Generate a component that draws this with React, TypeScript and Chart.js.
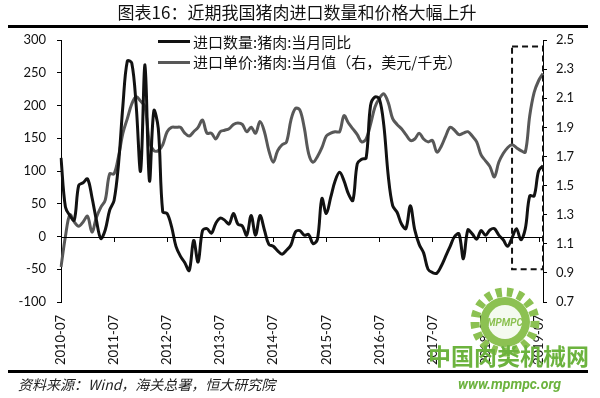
import React, { useEffect, useRef } from 'react';
import { Chart, registerables } from 'chart.js';
Chart.register(...registerables);

// 进口数量:猪肉:当月同比 (%), 2010-07 .. 2019-08
const quantityYoY: number[] = [
  120, 45, 32, 25, 78, 82, 88, 60, 25, -3, 10, 40,
  55, 110, 200, 268, 265, 200, 100, 262, 85, 192, 165, 38,
  35, 15, -15, -30, -40, -52, -6, -39, 9, 12, 5, 20,
  28, 25, 19, 35, 19, 16, 2, 32, 2, 32, 10, -12,
  -15, -22, -27, -21, -13, 7, 9, 2, 3, -11, -4, 58,
  35, 60, 85, 98, 85, 65, 55, 111, 118, 120, 200, 213,
  210, 170, 93, 47, 37, 19, 12, 47, 10, -12, -25, -50,
  -55, -56, -45, -30, -15, 0, 4, -34, 10, 4, -4, 9,
  2, 10, 12, 2, -5, -15, -2, 12, -5, 12, 62, 62,
  100, 108,
];

// 进口单价:猪肉:当月值 (美元/千克)
const unitPrice: number[] = [
  0.94, 1.15, 1.3, 1.25, 1.22, 1.25, 1.29, 1.18, 1.28, 1.35, 1.4, 1.58,
  1.58, 1.7, 1.86, 1.96, 2.06, 2.11, 2.08, 2.04, 1.8, 1.74, 1.74, 1.78,
  1.87, 1.9, 1.9, 1.9, 1.86, 1.84, 1.87, 1.9, 1.95, 1.86, 1.86, 1.82,
  1.87, 1.88, 1.89, 1.92, 1.93, 1.92, 1.87, 1.9, 1.86, 1.94, 1.87, 1.74,
  1.66, 1.74, 1.78, 1.8, 1.95, 2.03, 2.02, 1.9, 1.72, 1.66, 1.7, 1.76,
  1.84, 1.86, 1.87, 1.87, 1.98, 1.93, 1.89, 1.85, 1.8, 1.82, 1.92, 2.04,
  2.1, 2.13, 2.07, 1.96, 1.92, 1.89, 1.85, 1.81, 1.82, 1.86, 1.82, 1.8,
  1.81, 1.73, 1.77, 1.84, 1.9, 1.88, 1.85, 1.86, 1.87, 1.84, 1.8, 1.71,
  1.67, 1.63, 1.56, 1.66, 1.72, 1.76, 1.78, 1.76, 1.74, 1.73, 1.98, 2.14,
  2.22, 2.27,
];

const startYear = 2010;
const startMonth = 7;
const months: string[] = quantityYoY.map((_, i) => {
  const m = startMonth - 1 + i;
  const y = startYear + Math.floor(m / 12);
  const mm = (m % 12) + 1;
  return `${y}-${mm < 10 ? '0' + mm : mm}`;
});

const leftTicks: number[] = [-100, -50, 0, 50, 100, 150, 200, 250, 300];
const rightTicks: number[] = [0.7, 0.9, 1.1, 1.3, 1.5, 1.7, 1.9, 2.1, 2.3, 2.5];

// highlighted recent period (dashed box)
const boxFrom = '2019-01';
const boxTo = '2019-08';
const boxLow = -50;
const boxHigh = 290;

const seriesNames = ['进口数量:猪肉:当月同比', '进口单价:猪肉:当月值（右，美元/千克）'];

const overlayPlugin = {
  id: 'overlay',
  afterDatasetsDraw(chart: any) {
    const { ctx, chartArea, scales } = chart;
    const x = scales.x;
    const y = scales.y;
    const y0 = y.getPixelForValue(0);
    ctx.save();
    ctx.strokeStyle = '#000';
    ctx.lineWidth = 1;
    ctx.beginPath();
    ctx.moveTo(chartArea.left, Math.round(y0) + 0.5);
    ctx.lineTo(chartArea.right, Math.round(y0) + 0.5);
    months.forEach((m, i) => {
      if (m.endsWith('-07') && i > 0) {
        const px = Math.round(x.getPixelForValue(i)) + 0.5;
        ctx.moveTo(px, Math.round(y0));
        ctx.lineTo(px, Math.round(y0) + 5);
      }
    });
    ctx.stroke();
    // dashed box
    const xa = x.getPixelForValue(months.indexOf(boxFrom));
    const xb = x.getPixelForValue(months.indexOf(boxTo));
    const ya = y.getPixelForValue(boxHigh);
    const yb = y.getPixelForValue(boxLow);
    ctx.setLineDash([6, 4]);
    ctx.lineWidth = 2;
    ctx.strokeStyle = '#111';
    ctx.strokeRect(xa, ya, xb - xa, yb - ya);
    ctx.restore();
  },
};

const tickFont = { family: 'Lato, "DejaVu Sans", sans-serif', size: 13 };

export default function App() {
  const ref = useRef<HTMLCanvasElement | null>(null);
  useEffect(() => {
    if (!ref.current) return;
    const chart = new Chart(ref.current, {
      type: 'line',
      data: {
        labels: months,
        datasets: [
          {
            label: seriesNames[0],
            data: quantityYoY,
            yAxisID: 'y',
            borderColor: '#121212',
            borderWidth: 3,
            pointRadius: 0,
            tension: 0.35,
            fill: false,
          },
          {
            label: seriesNames[1],
            data: unitPrice,
            yAxisID: 'y1',
            borderColor: '#585858',
            borderWidth: 3,
            pointRadius: 0,
            tension: 0.35,
            fill: false,
          },
        ],
      },
      options: {
        responsive: false,
        animation: false,
        devicePixelRatio: 1,
        layout: { padding: { top: 40, left: 0, right: 0, bottom: 0 } },
        plugins: { legend: { display: false }, tooltip: { enabled: false } },
        scales: {
          x: {
            type: 'category',
            offset: false,
            grid: { display: false },
            border: { display: false },
            ticks: {
              autoSkip: false,
              maxRotation: 90,
              minRotation: 90,
              padding: 5,
              color: '#111',
              font: tickFont,
              callback: (_v: any, i: number) => (months[i].endsWith('-07') ? months[i] : null),
            },
            afterFit: (s: any) => { s.height = 96; },
          },
          y: {
            position: 'left',
            min: -100,
            max: 300,
            grid: { display: true, drawOnChartArea: false, drawTicks: true, tickLength: 4, color: '#000' },
            border: { display: true, color: '#000', width: 1 },
            ticks: { color: '#111', font: tickFont, padding: 11 },
            afterBuildTicks: (s: any) => { s.ticks = leftTicks.map((v) => ({ value: v })); },
            afterFit: (s: any) => { s.width = 61; },
          },
          y1: {
            position: 'right',
            min: 0.7,
            max: 2.5,
            grid: { display: true, drawOnChartArea: false, drawTicks: true, tickLength: 4, color: '#000' },
            border: { display: true, color: '#000', width: 1 },
            ticks: {
              color: '#111',
              font: tickFont,
              padding: 9,
              callback: (v: any) => Number(v).toFixed(1),
            },
            afterBuildTicks: (s: any) => { s.ticks = rightTicks.map((v) => ({ value: v })); },
            afterFit: (s: any) => { s.width = 57; },
          },
        },
      },
      plugins: [overlayPlugin],
    });
    return () => chart.destroy();
  }, []);

  const cjk = '"Noto Sans CJK SC", "Noto Sans", sans-serif';
  const green = '#6cb33e';
  return (
    <div style={{ position: 'absolute', left: 0, top: 0, width: 600, height: 398, background: '#fff', overflow: 'hidden' }}>
      <canvas ref={ref} width={600} height={398} style={{ position: 'absolute', left: 0, top: 0 }} />
      <div style={{ position: 'absolute', left: 0, width: 594, top: 1, textAlign: 'center', fontFamily: cjk, fontSize: 17, lineHeight: '22px', color: '#111' }}>
        图表16：近期我国猪肉进口数量和价格大幅上升
      </div>
      <div style={{ position: 'absolute', left: 8, width: 580, top: 25, height: 3, background: '#000' }} />
      {/* legend */}
      <div style={{ position: 'absolute', left: 158, top: 40, width: 32, height: 3, background: '#121212' }} />
      <div style={{ position: 'absolute', left: 193, top: 31, fontFamily: cjk, fontSize: 15, lineHeight: '22px', color: '#111', whiteSpace: 'nowrap' }}>
        {seriesNames[0]}
      </div>
      <div style={{ position: 'absolute', left: 158, top: 61, width: 32, height: 3, background: '#585858' }} />
      <div style={{ position: 'absolute', left: 193, top: 51, fontFamily: cjk, fontSize: 15, lineHeight: '22px', color: '#111', whiteSpace: 'nowrap' }}>
        {seriesNames[1]}
      </div>
      {/* watermark logo */}
      <svg width={80} height={80} style={{ position: 'absolute', left: 465, top: 282 }}>
        <circle cx={40} cy={40} r={30} fill="none" stroke="#8cc152" strokeWidth={9} strokeDasharray="6 5" />
        <circle cx={40} cy={40} r={25} fill="#8cc152" />
        <circle cx={40} cy={40} r={17} fill="#f4faef" />
        <text x={40} y={44} textAnchor="middle" fontSize={10} fontStyle="italic" fontWeight="bold" fill="#8cc152" fontFamily="Roboto, sans-serif">MPMPC</text>
      </svg>
      <div style={{ position: 'absolute', left: 8, width: 580, top: 370, height: 3, background: '#000' }} />
      <div style={{ position: 'absolute', left: 428, top: 341, fontFamily: cjk, fontSize: 23, fontWeight: 700, lineHeight: '28px', color: green, whiteSpace: 'nowrap' }}>
        中国肉类机械网
      </div>
      <div style={{ position: 'absolute', left: 458, top: 375, fontFamily: 'Roboto, "Liberation Sans", sans-serif', fontSize: 14, fontWeight: 700, fontStyle: 'italic', lineHeight: '18px', color: green, whiteSpace: 'nowrap' }}>
        www.mpmpc.org
      </div>
      <div style={{ position: 'absolute', left: 18, top: 374, fontFamily: cjk, fontSize: 14, fontStyle: 'italic', lineHeight: '20px', color: '#222', whiteSpace: 'nowrap' }}>
        资料来源：Wind，海关总署，恒大研究院
      </div>
    </div>
  );
}
